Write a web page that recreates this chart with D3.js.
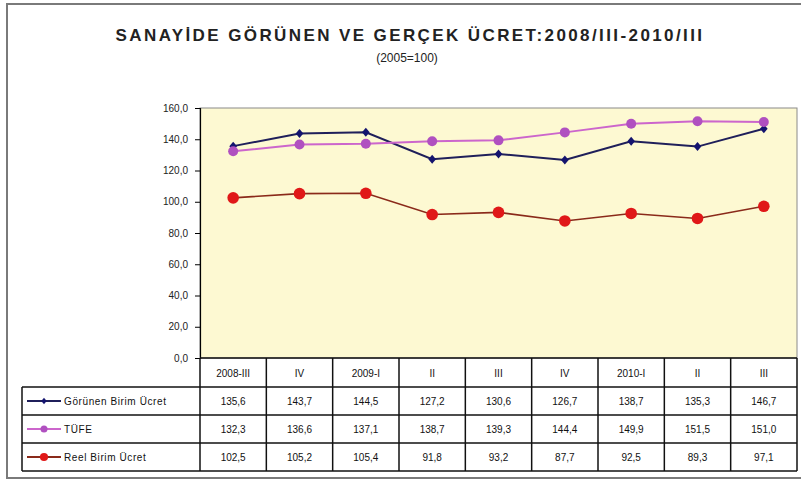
<!DOCTYPE html>
<html>
<head>
<meta charset="utf-8">
<script src="https://d3js.org/d3.v7.min.js"></script>
<style>
  body { margin: 0; background: #fff; }
  svg text { font-family: "Liberation Sans", Arial, sans-serif; }
</style>
</head>
<body>
<div id="chart"></div>
<script>
const periods = ["2008-III", "IV", "2009-I", "II", "III", "IV", "2010-I", "II", "III"];
const gorunen = [135.6, 143.7, 144.5, 127.2, 130.6, 126.7, 138.7, 135.3, 146.7];
const tufe = [132.3, 136.6, 137.1, 138.7, 139.3, 144.4, 149.9, 151.5, 151.0];
const reel = [102.5, 105.2, 105.4, 91.8, 93.2, 87.7, 92.5, 89.3, 97.1];
const seriesNames = ["Görünen Birim Ücret", "TÜFE", "Reel Birim Ücret"];
const yTicks = [0, 20, 40, 60, 80, 100, 120, 140, 160];

const W = 801, H = 482;
const trLocale = d3.formatLocale({decimal: ",", thousands: ".", grouping: [3], currency: ["", "TL"]});
const fmt = trLocale.format(".1f");

const svg = d3.select("#chart").append("svg").attr("width", W).attr("height", H);

// outer frame
svg.append("rect").attr("x", 7).attr("y", 4).attr("width", 810).attr("height", 474)
  .attr("fill", "#fff").attr("stroke", "#7a7a7a").attr("stroke-width", 2);

// titles
svg.append("text").attr("x", 410).attr("y", 41).attr("text-anchor", "middle")
  .style("font-size", "17px").style("font-weight", "bold").style("letter-spacing", "2.4px")
  .attr("fill", "#222").text("SANAYİDE GÖRÜNEN VE GERÇEK ÜCRET:2008/III-2010/III");
svg.append("text").attr("x", 407).attr("y", 62).attr("text-anchor", "middle")
  .style("font-size", "12px").attr("fill", "#222").text("(2005=100)");

const plotL = 200, plotR = 797, plotT = 108, plotB = 358;
const x = d3.scaleBand().domain(d3.range(periods.length)).range([plotL, plotR]);
const y = d3.scaleLinear().domain([0, 160]).range([plotB, plotT]);

// plot area
svg.append("rect").attr("x", plotL).attr("y", plotT).attr("width", plotR - plotL).attr("height", plotB - plotT)
  .attr("fill", "#fdf9d2").attr("stroke", "#8a8a8a").attr("stroke-width", 1);

// y axis
const yAxis = svg.append("g").attr("transform", `translate(${plotL},0)`)
  .call(d3.axisLeft(y).tickValues(yTicks).tickFormat(fmt).tickSize(5).tickPadding(7));
yAxis.select(".domain").attr("stroke", "#000").attr("stroke-width", 1.2);
yAxis.selectAll(".tick line").attr("stroke", "#000");
yAxis.selectAll(".tick text").style("font-size", "10px").attr("fill", "#222")
  .style("font-family", "'Liberation Sans', Arial, sans-serif");

const cx = i => x(i) + x.bandwidth() / 2;
const line = d3.line().x((d, i) => cx(i)).y(d => y(d));

const series = [
  {name: seriesNames[0], values: gorunen, line: "#1f1f5a", marker: "#14146e", shape: "diamond", size: 9, width: 2},
  {name: seriesNames[1], values: tufe, line: "#cc66cc", marker: "#b050c0", shape: "circle", size: 5, width: 2},
  {name: seriesNames[2], values: reel, line: "#8a2a1a", marker: "#e01818", shape: "circle", size: 5.8, width: 1.6}
];

function drawMarker(g, s, px, py, scale) {
  const k = scale || 1;
  if (s.shape === "diamond") {
    const r = s.size / 2 * k;
    g.append("path").attr("d", `M${px},${py - r}L${px + r * 0.85},${py}L${px},${py + r}L${px - r * 0.85},${py}Z`)
      .attr("fill", s.marker);
  } else {
    g.append("circle").attr("cx", px).attr("cy", py).attr("r", s.size * k).attr("fill", s.marker);
  }
}

series.forEach(s => {
  const g = svg.append("g");
  g.append("path").datum(s.values).attr("d", line).attr("fill", "none")
    .attr("stroke", s.line).attr("stroke-width", s.width);
  s.values.forEach((v, i) => drawMarker(g, s, cx(i), y(v)));
});

// data table
const tblL = 22, hdrT = 358, rowH = 28, hdrH = 29;
const tbl = svg.append("g");
const rowTop = r => hdrT + hdrH + r * rowH;

// header row cells
periods.forEach((p, i) => {
  tbl.append("text").attr("x", cx(i)).attr("y", hdrT + hdrH / 2 + 4).attr("text-anchor", "middle")
    .style("font-size", "10px").attr("fill", "#111").text(p);
});
// body rows
series.forEach((s, r) => {
  const ty = rowTop(r) + rowH / 2 + 4;
  s.values.forEach((v, i) => {
    tbl.append("text").attr("x", cx(i)).attr("y", ty).attr("text-anchor", "middle")
      .style("font-size", "10px").attr("fill", "#111").text(fmt(v));
  });
  // legend key
  const ky = rowTop(r) + rowH / 2;
  tbl.append("line").attr("x1", 27).attr("x2", 61).attr("y1", ky).attr("y2", ky)
    .attr("stroke", s.line).attr("stroke-width", 2);
  drawMarker(tbl, s, 44, ky, 0.7);
  tbl.append("text").attr("x", 64).attr("y", ty).style("font-size", "10px")
    .style("letter-spacing", "0.6px").attr("fill", "#111").text(s.name);
});

// grid lines of the table
const tableStroke = "#111";
tbl.append("line").attr("x1", plotL).attr("x2", plotR).attr("y1", hdrT).attr("y2", hdrT)
  .attr("stroke", tableStroke).attr("stroke-width", 1.5);
d3.range(4).forEach(r => {
  tbl.append("line").attr("x1", tblL).attr("x2", plotR).attr("y1", rowTop(r)).attr("y2", rowTop(r))
    .attr("stroke", tableStroke).attr("stroke-width", 1.5);
});
tbl.append("line").attr("x1", tblL).attr("x2", tblL).attr("y1", rowTop(0)).attr("y2", rowTop(3))
  .attr("stroke", tableStroke).attr("stroke-width", 1.5);
d3.range(periods.length + 1).forEach(i => {
  const vx = i < periods.length ? x(i) : plotR;
  tbl.append("line").attr("x1", vx).attr("x2", vx).attr("y1", hdrT).attr("y2", rowTop(3))
    .attr("stroke", tableStroke).attr("stroke-width", 1.5);
});
</script>
</body>
</html>
